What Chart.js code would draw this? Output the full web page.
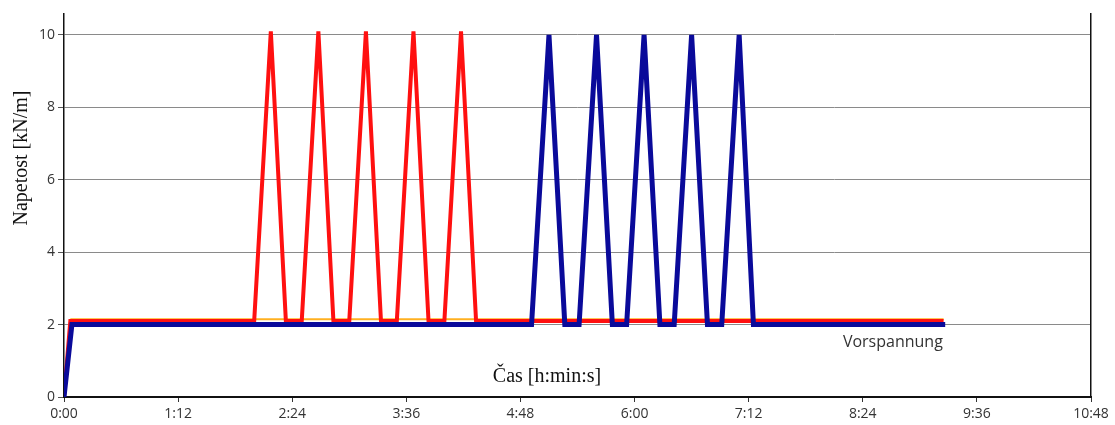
<!DOCTYPE html>
<html>
<head>
<meta charset="utf-8">
<script src="https://cdn.jsdelivr.net/npm/chart.js@4"></script>
<style>
  html, body { margin: 0; padding: 0; background: #fff; }
  #wrap { width: 1115px; height: 425px; position: relative; }
</style>
</head>
<body>
<div id="wrap"><canvas id="chart"></canvas></div>
<script>
// time in minutes, tension in kN/m
const blueTimes  = [0, 5, 295, 306, 316, 325, 336, 346, 355, 366, 376, 385, 396, 406, 415, 426, 435, 556];
const blueValues = [0, 2, 2, 10, 2, 2, 10, 2, 2, 10, 2, 2, 10, 2, 2, 10, 2, 2];

const redTimes  = [0, 4, 120, 130.5, 140, 150, 160.5, 170, 180, 190.5, 200, 210, 220.5, 230, 240, 250.5, 260, 555];
const redValues = [0, 2.1, 2.1, 10.1, 2.1, 2.1, 10.1, 2.1, 2.1, 10.1, 2.1, 2.1, 10.1, 2.1, 2.1, 10.1, 2.1, 2.1];

const orangeTimes  = [4, 555];
const orangeValues = [2.15, 2.15];

const xTicks = [0, 72, 144, 216, 288, 360, 432, 504, 576, 648];
const yTicks = [0, 2, 4, 6, 8, 10];

function toPoints(xs, ys) {
    return xs.map((x, i) => ({ x: x, y: ys[i] }));
}

function fmtTime(min) {
    const h = Math.floor(min / 60);
    const m = Math.round(min % 60);
    return h + ':' + String(m).padStart(2, '0');
}

const labelsPlugin = {
    id: 'labels',
    afterDraw(chart) {
        const ctx = chart.ctx;
        const x = chart.scales.x, y = chart.scales.y;
        ctx.save();
        ctx.fillStyle = '#111';
        ctx.textAlign = 'center';
        ctx.textBaseline = 'middle';
        ctx.font = '20px "Liberation Serif"';
        ctx.fillText('Čas [h:min:s]', 547, 377);
        ctx.translate(22, 158);
        ctx.rotate(-Math.PI / 2);
        ctx.fillText('Napetost [kN/m]', 0, 0);
        ctx.restore();

        ctx.save();
        ctx.fillStyle = '#333';
        ctx.font = '16px "Open Sans"';
        ctx.textAlign = 'center';
        ctx.textBaseline = 'middle';
        ctx.fillText('Vorspannung', x.getPixelForValue(523), y.getPixelForValue(1.5));
        ctx.restore();
    }
};

new Chart(document.getElementById('chart'), {
    type: 'line',
    data: {
        datasets: [
            {
                data: toPoints(blueTimes, blueValues),
                borderColor: '#0a0a9a',
                borderWidth: 5
            },
            {
                data: toPoints(redTimes, redValues),
                borderColor: '#ff1010',
                borderWidth: 4
            },
            {
                data: toPoints(orangeTimes, orangeValues),
                borderColor: '#ffb020',
                borderWidth: 2
            }
        ]
    },
    options: {
        responsive: true,
        maintainAspectRatio: false,
        animation: false,
        layout: { padding: { top: 14, left: 0, right: 0, bottom: 0 } },
        elements: {
            point: { radius: 0 },
            line: { tension: 0, fill: false }
        },
        plugins: {
            legend: { display: false },
            tooltip: { enabled: false }
        },
        scales: {
            x: {
                type: 'linear',
                min: 0,
                max: 648,
                afterFit: s => { s.height = 28; },
                afterBuildTicks: s => { s.ticks = xTicks.map(v => ({ value: v })); },
                ticks: {
                    callback: v => fmtTime(v),
                    color: '#333',
                    font: { family: 'Open Sans', size: 14 },
                    padding: 4,
                    maxRotation: 0
                },
                grid: { drawOnChartArea: false, tickLength: 5, tickColor: '#333' },
                border: { color: '#111', width: 2 }
            },
            y: {
                min: 0,
                max: 10.58,
                afterFit: s => { s.width = 64; },
                afterBuildTicks: s => { s.ticks = yTicks.map(v => ({ value: v })); },
                ticks: {
                    color: '#333',
                    font: { family: 'Open Sans', size: 14 },
                    padding: 3
                },
                grid: { color: '#8a8a8a', lineWidth: 1, tickLength: 6, tickColor: '#555' },
                border: { color: '#111', width: 1.5 }
            },
            y2: {
                position: 'right',
                min: 0,
                max: 10.58,
                afterFit: s => { s.width = 24; },
                ticks: { display: false },
                grid: { drawOnChartArea: false, drawTicks: false },
                border: { color: '#111', width: 1.5 }
            }
        }
    },
    plugins: [labelsPlugin]
});
</script>
</body>
</html>
